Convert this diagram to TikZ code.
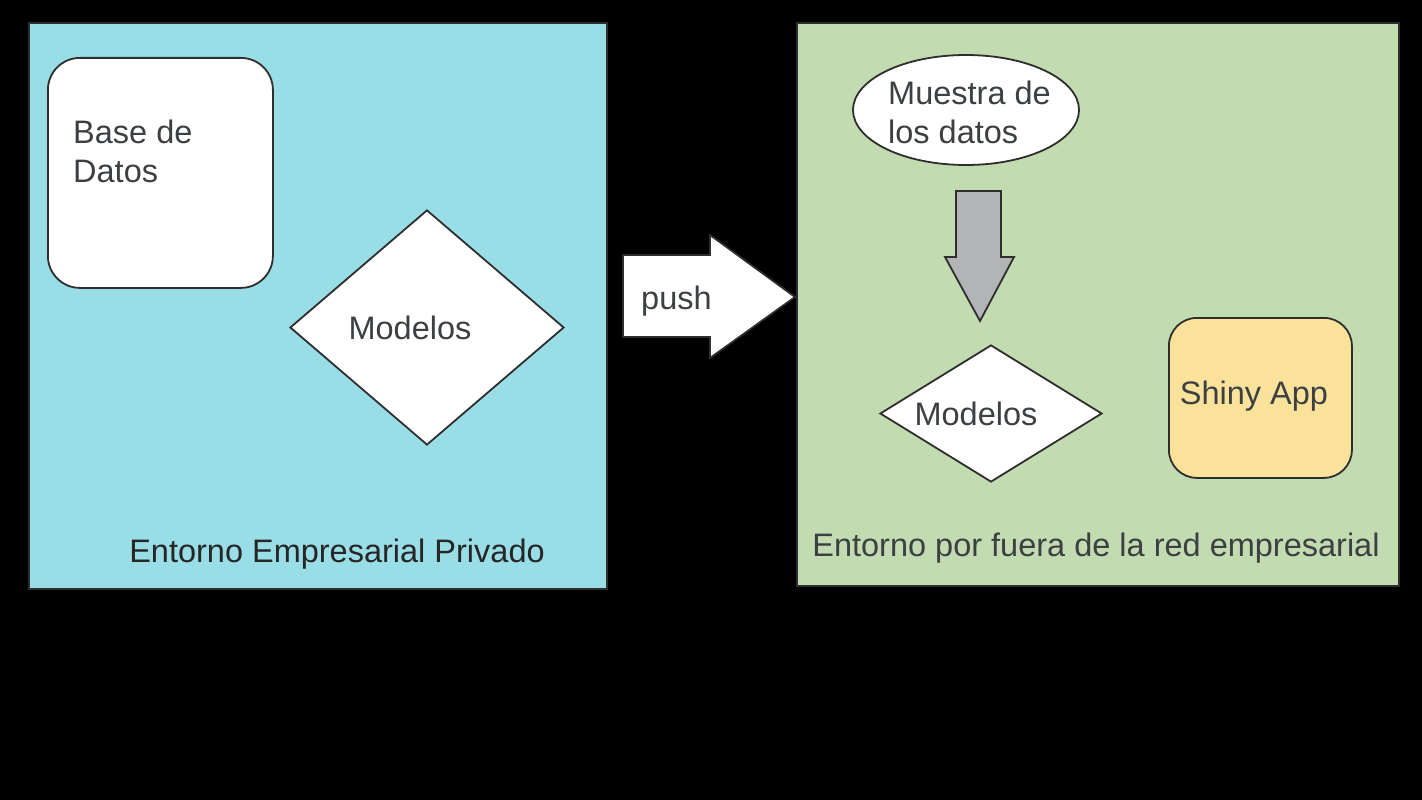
\documentclass[tikz,border=0pt]{standalone}
\usepackage{fontspec}
\setmainfont{Liberation Sans}
\usetikzlibrary{shapes.geometric}
\definecolor{panelA}{HTML}{99DDE6}
\definecolor{panelB}{HTML}{C3DBB0}
\definecolor{shinyfill}{HTML}{FBE29B}
\definecolor{arrowgray}{HTML}{B3B4B6}
\definecolor{edge}{HTML}{2E2E2E}
\definecolor{txt}{HTML}{3C4043}
\tikzset{
  panel/.style={draw=edge, line width=1.8pt},
  shapebox/.style={draw=edge, line width=1.8pt, fill=white},
  lbl/.style={text=txt, font=\fontsize{32.5}{39}\selectfont, inner sep=0pt},
  lbll/.style={lbl, align=left},
}
\begin{document}
\begin{tikzpicture}[x=1pt,y=-1pt]
\fill[black] (0,0) rectangle (1422,800);
\useasboundingbox (0,0) rectangle (1422,800);
% panels
\node[panel, fill=panelA, minimum width=578pt, minimum height=566pt, anchor=north west, inner sep=0pt] (left) at (28,22) {};
\node[panel, fill=panelB, minimum width=602pt, minimum height=563pt, anchor=north west, inner sep=0pt] (right) at (796,22) {};
% Base de datos
\node[shapebox, rounded corners=32pt, minimum width=225pt, minimum height=230pt, anchor=north west, inner sep=0pt] (db) at (47,57) {};
\node[lbll, anchor=west] (dbt) at (73,151) {Base de\\Datos};
% left diamond
\node[shapebox, diamond, minimum width=274pt, minimum height=235pt, inner sep=0pt] (m1) at (427,327.5) {};
\node[lbl] (m1t) at (410,328) {Modelos};
\node[lbl, text=black!85] (lt) at (337,554) {Entorno Empresarial Privado};
% push arrow
\draw[shapebox, line join=miter] (623,255) -- (710,255) -- (710,235) -- (795,297) -- (710,358) -- (710,337) -- (623,337) -- cycle;
\node[lbl, anchor=west] (push) at (641,301) {push};
% ellipse
\node[shapebox, ellipse, minimum width=226pt, minimum height=110pt, inner sep=0pt] (sample) at (966,110) {};
\node[lbll, anchor=west] (samplet) at (888,112) {Muestra de\\los datos};
% gray arrow
\draw[shapebox, fill=arrowgray, line join=miter] (956,191) -- (1001,191) -- (1001,257) -- (1014,257) -- (980,321) -- (945,257) -- (956,257) -- cycle;
% right diamond
\node[shapebox, diamond, minimum width=222pt, minimum height=137pt, inner sep=0pt] (m2) at (991,413.5) {};
\node[lbl] (m2t) at (976,414) {Modelos};
% shiny
\node[shapebox, fill=shinyfill, rounded corners=28pt, minimum width=183pt, minimum height=160pt, anchor=north west, inner sep=0pt] (shiny) at (1168,317) {};
\node[lbl] (shinyt) at (1254,396) {Shiny App};
\node[lbl] (rt) at (1096,548) {Entorno por fuera de la red empresarial};
\end{tikzpicture}
\end{document}
